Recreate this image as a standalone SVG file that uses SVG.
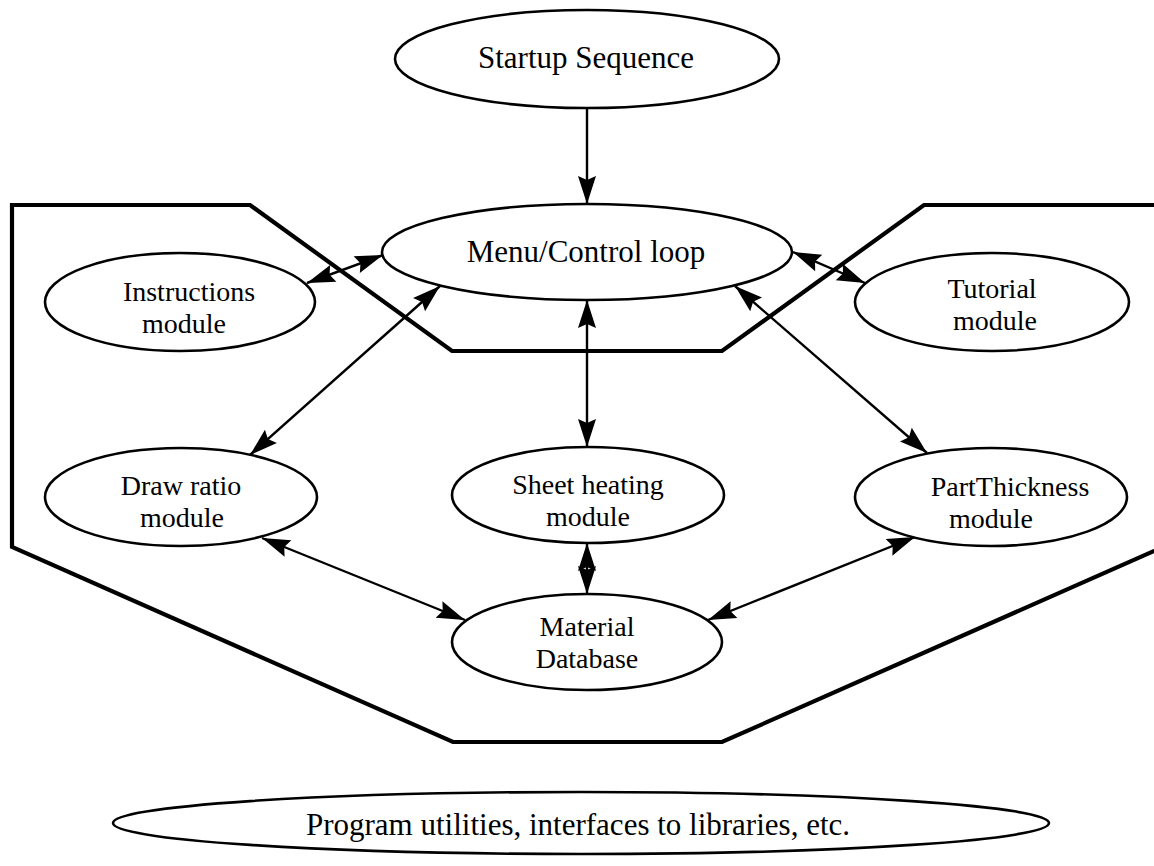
<svg xmlns="http://www.w3.org/2000/svg" width="1154" height="866" viewBox="0 0 1154 866">
<style>
.bg{fill:#fff}
.node{fill:#fff;stroke:#000;stroke-width:2.6}
.frame{fill:none;stroke:#000;stroke-width:4.2;stroke-linejoin:miter}
.lbl{font-family:"Liberation Serif","Times New Roman",serif;font-size:31px;fill:#000;text-anchor:middle}
.lbl2{font-family:"Liberation Serif","Times New Roman",serif;font-size:28px;fill:#000;text-anchor:middle}
.edge{fill:none;stroke:#000;stroke-width:2.4}
.uni{marker-end:url(#ah)}
.bi{marker-start:url(#ah);marker-end:url(#ah)}
</style>
<defs>
<marker id="ah" markerUnits="userSpaceOnUse" viewBox="-30 -11 32 22" refX="0" refY="0" markerWidth="32" markerHeight="22" orient="auto-start-reverse">
<path d="M0,0 L-28,-9 L-24,0 L-28,9 Z" fill="#000"/>
</marker>
</defs>
<rect class="bg" x="0" y="0" width="1154" height="866"/>
<g id="boundary">
<polygon class="frame" points="12,205 250,205 452,351 722,351 924,205 1163,205 1163,547 722,742 453,742 12,547"/>
</g>
<g id="connectors">
<line class="edge uni" x1="587" y1="108" x2="587" y2="204"/>
<line class="edge bi" x1="307" y1="283" x2="383" y2="255"/>
<line class="edge bi" x1="793" y1="252" x2="865" y2="283"/>
<line class="edge bi" x1="440" y1="286" x2="250" y2="455"/>
<line class="edge bi" x1="587" y1="300" x2="587" y2="447"/>
<line class="edge bi" x1="735" y1="286" x2="927" y2="453"/>
<line class="edge bi" x1="262" y1="538" x2="465" y2="620"/>
<line class="edge bi" x1="587" y1="543" x2="587" y2="594"/>
<line class="edge bi" x1="915" y1="537" x2="708" y2="620"/>
</g>
<g id="startup">
<ellipse class="node" cx="587" cy="59" rx="192" ry="49"/>
<text class="lbl" x="586" y="68">Startup Sequence</text>
</g>
<g id="menu">
<ellipse class="node" cx="587" cy="252" rx="205" ry="48"/>
<text class="lbl" x="586" y="262">Menu/Control loop</text>
</g>
<g id="instructions">
<ellipse class="node" cx="180" cy="302" rx="135" ry="49"/>
<text class="lbl2" x="189" y="301">Instructions</text>
<text class="lbl2" x="184" y="332.5">module</text>
</g>
<g id="tutorial">
<ellipse class="node" cx="992" cy="302" rx="137" ry="49"/>
<text class="lbl2" x="992" y="298">Tutorial</text>
<text class="lbl2" x="995" y="329.5">module</text>
</g>
<g id="drawratio">
<ellipse class="node" cx="181" cy="497" rx="136" ry="49"/>
<text class="lbl2" x="181" y="495">Draw ratio</text>
<text class="lbl2" x="182" y="526.5">module</text>
</g>
<g id="sheetheating">
<ellipse class="node" cx="588" cy="495" rx="136" ry="48"/>
<text class="lbl2" x="588" y="494">Sheet heating</text>
<text class="lbl2" x="588" y="525.5">module</text>
</g>
<g id="partthickness">
<ellipse class="node" cx="991" cy="497" rx="136" ry="49"/>
<text class="lbl2" x="1010" y="496">PartThickness</text>
<text class="lbl2" x="991" y="527.5">module</text>
</g>
<g id="material">
<ellipse class="node" cx="587" cy="642" rx="135" ry="48"/>
<text class="lbl2" x="587" y="636">Material</text>
<text class="lbl2" x="587" y="667.5">Database</text>
</g>
<g id="utilities">
<ellipse class="node" cx="581" cy="823" rx="468" ry="31"/>
<text class="lbl" x="578" y="835">Program utilities, interfaces to libraries, etc.</text>
</g>
</svg>
